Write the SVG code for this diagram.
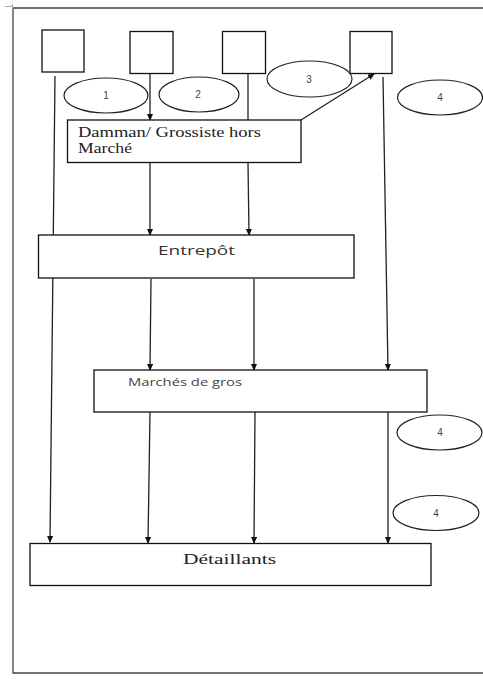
<svg xmlns="http://www.w3.org/2000/svg" width="483" height="679" viewBox="0 0 483 679">
<defs>
<marker id="ah" markerWidth="7" markerHeight="6" refX="6" refY="3" orient="auto" markerUnits="userSpaceOnUse">
<path d="M0,0 L7,3 L0,6 Z" fill="#111"/>
</marker>
<style>
.box{fill:#fff;stroke:#111;stroke-width:1.3}
.ell{fill:#fff;stroke:#222;stroke-width:1.2}
.num{font-size:10px;fill:#444;text-anchor:middle}
.ln{stroke:#222;stroke-width:1.3;fill:none}
.arr{stroke:#222;stroke-width:1.3;fill:none;marker-end:url(#ah)}
</style>
</defs>
<rect width="483" height="679" fill="#fff"/>
<g id="frame">
<path d="M483,8 H13 V673 H483" fill="none" stroke="#444" stroke-width="1.3"/>
<path d="M5,6.5 H12 M12.5,4 V9" stroke="#aaa" stroke-width="1"/>
</g>
<g id="connectors">
<line class="arr" x1="55" y1="76" x2="50" y2="542"/>
<line class="arr" x1="150" y1="73" x2="150" y2="120"/>
<line class="arr" x1="150" y1="163" x2="150" y2="235"/>
<line class="arr" x1="151" y1="279" x2="150" y2="370"/>
<line class="arr" x1="150" y1="412" x2="148" y2="543"/>
<line class="ln" x1="248" y1="73" x2="248" y2="120"/>
<line class="arr" x1="248" y1="163" x2="249" y2="235"/>
<line class="arr" x1="254" y1="279" x2="254" y2="370"/>
<line class="arr" x1="255" y1="412" x2="254" y2="543"/>
<line class="arr" x1="383" y1="77" x2="388" y2="370"/>
<line class="arr" x1="388" y1="412" x2="388" y2="543"/>
<line class="arr" x1="301" y1="120" x2="374" y2="74"/>
</g>
<g id="src1"><rect class="box" x="42" y="30" width="42" height="42"/></g>
<g id="src2"><rect class="box" x="130" y="31.5" width="43" height="42"/></g>
<g id="src3"><rect class="box" x="222.5" y="31.5" width="43" height="42"/></g>
<g id="src4"><rect class="box" x="350" y="31.5" width="42" height="42"/></g>
<g id="e1"><ellipse class="ell" cx="106" cy="95.5" rx="42" ry="17.5"/><text class="num" font-family="Liberation Sans, Arial, sans-serif" x="106" y="99">1</text></g>
<g id="e2"><ellipse class="ell" cx="199" cy="94.5" rx="40" ry="17.5"/><text class="num" font-family="Liberation Sans, Arial, sans-serif" x="198" y="98">2</text></g>
<g id="e3"><ellipse class="ell" cx="309.5" cy="79" rx="42.5" ry="18"/><text class="num" font-family="Liberation Sans, Arial, sans-serif" x="309" y="82.5">3</text></g>
<g id="e4a"><ellipse class="ell" cx="440" cy="97.5" rx="42.5" ry="17.5"/><text class="num" font-family="Liberation Sans, Arial, sans-serif" x="440" y="101">4</text></g>
<g id="e4b"><ellipse class="ell" cx="439.5" cy="432.5" rx="42.5" ry="17.5"/><text class="num" font-family="Liberation Sans, Arial, sans-serif" x="440" y="436">4</text></g>
<g id="e4c"><ellipse class="ell" cx="436" cy="513" rx="43" ry="17.5"/><text class="num" font-family="Liberation Sans, Arial, sans-serif" x="436" y="516.5">4</text></g>
<g id="damman">
<rect class="box" x="67.5" y="120" width="233.5" height="42.5"/>
<text font-family="'Liberation Serif', 'DejaVu Serif', serif" font-size="14" fill="#222" x="78" y="137" textLength="183" lengthAdjust="spacingAndGlyphs">Damman/ Grossiste hors</text>
<text font-family="'Liberation Serif', 'DejaVu Serif', serif" font-size="14" fill="#222" x="78" y="153" textLength="54" lengthAdjust="spacingAndGlyphs">Marché</text>
</g>
<g id="entrepot">
<rect class="box" x="38.5" y="235" width="315.5" height="43"/>
<text font-family="Open Sans, DejaVu Sans, sans-serif" font-size="13.5" fill="#333" x="158" y="255" textLength="77" lengthAdjust="spacingAndGlyphs">Entrepôt</text>
</g>
<g id="marches">
<rect class="box" x="94" y="370" width="333" height="42"/>
<text font-family="Open Sans, DejaVu Sans, sans-serif" font-size="10.5" fill="#444" x="128" y="385.5" textLength="114" lengthAdjust="spacingAndGlyphs">Marchés de gros</text>
</g>
<g id="detaillants">
<rect class="box" x="30" y="543.5" width="401" height="42"/>
<text font-family="'Liberation Serif', 'DejaVu Serif', serif" font-size="15" fill="#222" x="183" y="564" textLength="93" lengthAdjust="spacingAndGlyphs">Détaillants</text>
</g>
</svg>
